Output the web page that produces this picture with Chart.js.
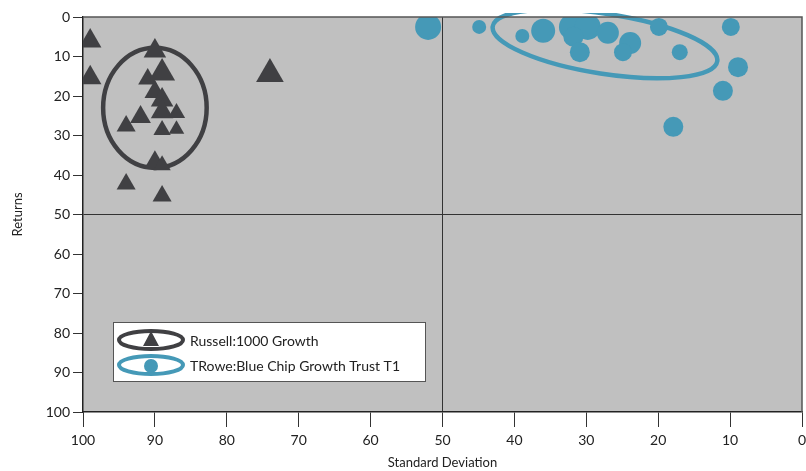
<!DOCTYPE html>
<html>
<head>
<meta charset="utf-8">
<script src="https://cdn.jsdelivr.net/npm/chart.js@4.4.0/dist/chart.umd.min.js"></script>
<style>
  html, body { margin: 0; padding: 0; background: #fff; overflow: hidden; }
  canvas { display: block; }
</style>
</head>
<body>
<canvas id="riskReturn" width="806" height="471"></canvas>
<script>
// Russell 1000 Growth (triangles): std dev, returns, marker size
const russellSD  = [99, 99, 90, 91, 89, 90, 89, 89, 87, 92, 94, 89, 87, 90, 89, 94, 89, 74];
const russellRet = [6.1, 15.4, 8.6, 15.7, 14.2, 19, 21, 24, 24.3, 25.3, 27.6, 28.6, 28.4, 36.5, 37.5, 42.3, 45.3, 14.4];
const russellSize = [13, 13, 13, 11, 15, 12, 13, 13, 10, 12, 11, 10, 9, 11, 10, 11, 11, 16];

// TRowe Blue Chip Growth Trust T1 (circles)
const trowSD  = [52, 44.9, 38.9, 36, 32, 29.8, 31.8, 30.9, 27, 23.9, 24.9, 19.9, 17, 9.9, 8.9, 11, 17.9];
const trowRet = [2.5, 2.5, 4.8, 3.5, 2.5, 2.5, 5, 8.9, 4, 6.6, 8.9, 2.5, 8.9, 2.5, 12.7, 18.7, 27.8];
const trowSize = [13, 7, 7, 12, 13, 13, 10, 10, 11, 11, 9, 9, 8, 9, 10, 10, 10];

const seriesNames = ["Russell:1000 Growth", "TRowe:Blue Chip Growth Trust T1"];

// cluster ellipses: center (sd, ret), half-width in sd units, half-height in ret units, tilt (deg)
const ellipseRussell = { sd: 90, ret: 23, rx: 7.2, ry: 15.2, tilt: 0 };
const ellipseTrow = { sd: 27.4, ret: 6.8, rx: 15.8, ry: 7.6, tilt: 8.8 };

const DARK = "#404043";
const BLUE = "#4599b7";
const FONT = "Lato, 'DejaVu Sans', sans-serif";

function pts(xs, ys) {
  return xs.map((x, i) => ({ x: x, y: ys[i] }));
}

const plotDecor = {
  id: "plotDecor",
  beforeDraw(chart) {
    const a = chart.chartArea, ctx = chart.ctx;
    ctx.save();
    ctx.fillStyle = "#c0c0c0";
    ctx.fillRect(a.left, a.top, a.right - a.left, a.bottom - a.top);
    ctx.restore();
  },
  beforeDatasetsDraw(chart) {
    const ctx = chart.ctx, xs = chart.scales.x, ys = chart.scales.y, a = chart.chartArea;
    const draw = (e, color) => {
      const cx = xs.getPixelForValue(e.sd), cy = ys.getPixelForValue(e.ret);
      const rx = Math.abs(xs.getPixelForValue(e.sd + e.rx) - cx);
      const ry = Math.abs(ys.getPixelForValue(e.ret + e.ry) - cy);
      ctx.save();
      ctx.beginPath();
      ctx.rect(a.left, a.top - 4, a.right - a.left, a.bottom - a.top + 4);
      ctx.clip();
      ctx.beginPath();
      ctx.ellipse(cx, cy, rx, ry, e.tilt * Math.PI / 180, 0, Math.PI * 2);
      ctx.lineWidth = 4.5;
      ctx.strokeStyle = color;
      ctx.stroke();
      ctx.restore();
    };
    draw(ellipseRussell, DARK);
    draw(ellipseTrow, BLUE);
  },
  afterDraw(chart) {
    const a = chart.chartArea, ctx = chart.ctx;
    ctx.save();
    ctx.strokeStyle = "#555";
    ctx.lineWidth = 1.5;
    ctx.beginPath();
    ctx.moveTo(a.left, a.top);
    ctx.lineTo(a.right, a.top);
    ctx.lineTo(a.right, a.bottom);
    ctx.stroke();

    // legend box
    const lx = 113, ly = 322, lw = 312, lh = 59;
    ctx.fillStyle = "#fff";
    ctx.fillRect(lx, ly, lw, lh);
    ctx.strokeStyle = "#555";
    ctx.lineWidth = 1;
    ctx.strokeRect(lx + 0.5, ly + 0.5, lw, lh);
    const rows = [
      { y: ly + 18, color: DARK, tri: true },
      { y: ly + 43, color: BLUE, tri: false }
    ];
    rows.forEach((r, i) => {
      ctx.beginPath();
      ctx.ellipse(lx + 38, r.y, 32, 9, 0, 0, Math.PI * 2);
      ctx.lineWidth = 4;
      ctx.strokeStyle = r.color;
      ctx.stroke();
      ctx.fillStyle = r.color;
      ctx.beginPath();
      if (r.tri) {
        ctx.moveTo(lx + 38, r.y - 9);
        ctx.lineTo(lx + 46, r.y + 6);
        ctx.lineTo(lx + 30, r.y + 6);
        ctx.closePath();
      } else {
        ctx.arc(lx + 38, r.y + 1, 7, 0, Math.PI * 2);
      }
      ctx.fill();
      ctx.fillStyle = "#222";
      ctx.font = "14px " + FONT;
      ctx.textBaseline = "middle";
      ctx.fillText(seriesNames[i], lx + 77, r.y + 1);
    });
    ctx.restore();
  }
};

new Chart(document.getElementById("riskReturn"), {
  type: "scatter",
  data: {
    datasets: [
      {
        label: seriesNames[0],
        data: pts(russellSD, russellRet),
        pointStyle: "triangle",
        pointRadius: russellSize,
        backgroundColor: DARK,
        borderColor: DARK,
        borderWidth: 0
      },
      {
        label: seriesNames[1],
        data: pts(trowSD, trowRet),
        pointStyle: "circle",
        pointRadius: trowSize,
        backgroundColor: BLUE,
        borderColor: BLUE,
        borderWidth: 0
      }
    ]
  },
  options: {
    responsive: false,
    maintainAspectRatio: false,
    animation: false,
    layout: { autoPadding: false, padding: { left: 0, right: 4, top: 17, bottom: 0 } },
    plugins: {
      legend: { display: false },
      tooltip: { enabled: false }
    },
    scales: {
      x: {
        type: "linear",
        reverse: true,
        min: 0,
        max: 100,
        afterFit: s => { s.height = 59; s.paddingLeft = 0; s.paddingRight = 0; },
        ticks: { stepSize: 10, color: "#222", padding: 5, font: { family: FONT, size: 14 } },
        grid: {
          color: c => c.tick && c.tick.value === 50 ? "#333" : "rgba(0,0,0,0)",
          tickColor: "#333",
          tickLength: 15,
          lineWidth: 1
        },
        border: { display: true, color: "#222", width: 1.5 },
        title: { display: true, text: "Standard Deviation", color: "#222", padding: { top: 2, bottom: 0 }, font: { family: FONT, size: 13 } }
      },
      y: {
        type: "linear",
        reverse: true,
        min: 0,
        max: 100,
        afterFit: s => { s.width = 83; s.paddingTop = 0; s.paddingBottom = 0; },
        ticks: { stepSize: 10, color: "#222", padding: 3, font: { family: FONT, size: 14 } },
        grid: {
          color: c => c.tick && c.tick.value === 50 ? "#333" : "rgba(0,0,0,0)",
          tickColor: "#333",
          tickLength: 10,
          lineWidth: 1
        },
        border: { display: true, color: "#222", width: 1.5 },
        title: { display: true, text: "Returns", color: "#222", padding: { top: 10, bottom: 6 }, font: { family: FONT, size: 13 } }
      }
    }
  },
  plugins: [plotDecor]
});
</script>
</body>
</html>
